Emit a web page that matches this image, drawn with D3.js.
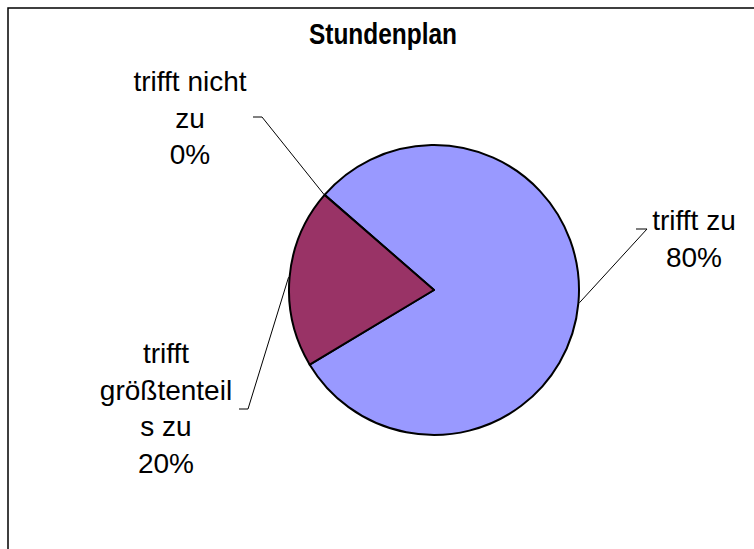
<!DOCTYPE html>
<html>
<head>
<meta charset="utf-8">
<script src="https://cdn.jsdelivr.net/npm/d3@7"></script>
<style>
  body { margin: 0; background: #fff; }
  text { font-family: "Liberation Sans", Arial, sans-serif; }
</style>
</head>
<body>
<svg id="chart"></svg>
<script>
let categories = ["trifft zu", "trifft größtenteils zu", "trifft nicht zu"];
let values = [80, 20, 0];
let sliceColors = ["#9999FF", "#993366", "#FFFFCC"];
// label text broken the way the reference wraps it
let labelLines = [
    ["trifft zu", "80%"],
    ["trifft", "größtenteil", "s zu", "20%"],
    ["trifft nicht", "zu", "0%"]
];

function getConfig(){
    let width = 754;
    let height = 549;
    let cx = 434;
    let cy = 290;
    let radius = 145;
    let container = d3.select("#chart")
        .attr("width", width)
        .attr("height", height);
    return { width, height, cx, cy, radius, container };
}

function getScales(){
    let cscale = d3.scaleOrdinal()
        .domain(categories)
        .range(sliceColors);
    return { cscale };
}

function drawFrame(config){
    let { container } = config;
    container.append("rect")
        .attr("x", 0).attr("y", 0)
        .attr("width", config.width).attr("height", config.height)
        .attr("fill", "#fff");
    // chart area border, runs off the right and bottom of the picture
    container.append("rect")
        .attr("x", 8).attr("y", 8)
        .attr("width", 900).attr("height", 700)
        .attr("fill", "none")
        .attr("stroke", "#000")
        .attr("stroke-width", 1.5);
    container.append("text")
        .attr("x", 383)
        .attr("y", 44)
        .attr("text-anchor", "middle")
        .attr("font-weight", "bold")
        .attr("font-size", "29px")
        .attr("textLength", 148)
        .attr("lengthAdjust", "spacingAndGlyphs")
        .text("Stundenplan");
}

function drawPie(config, scales){
    let { container, cx, cy, radius } = config;
    let { cscale } = scales;
    let start = -49 * Math.PI / 180;
    let pie = d3.pie()
        .sort(null)
        .value(d => d.value)
        .startAngle(start)
        .endAngle(start + 2 * Math.PI);
    let data = categories.map((c, i) => ({ name: c, value: values[i], lines: labelLines[i] }));
    let arcs = pie(data);
    let arc = d3.arc().innerRadius(0).outerRadius(radius);
    let g = container.append("g").attr("transform", "translate(" + cx + "," + cy + ")");
    g.selectAll("path")
        .data(arcs.filter(d => d.value > 0))
        .enter().append("path")
        .attr("d", arc)
        .attr("fill", d => cscale(d.data.name))
        .attr("stroke", "#000")
        .attr("stroke-width", 2)
        .attr("stroke-linejoin", "round");
    return arcs;
}

function drawLabels(config, arcs){
    let { container, cx, cy, radius } = config;
    // where each label block sits (centre x, first baseline) and the leader elbow
    let layout = [
        { x: 694, y: 230, ex: 647, ey: 229, hx: 636 },
        { x: 166, y: 363, ex: 248, ey: 409, hx: 239 },
        { x: 190, y: 91, ex: 262, ey: 117, hx: 253 }
    ];
    let lineH = 36.5;
    arcs.forEach((d, i) => {
        let a = (d.startAngle + d.endAngle) / 2;
        let px = cx + Math.sin(a) * (radius + 1);
        let py = cy - Math.cos(a) * (radius + 1);
        let L = layout[i];
        container.append("polyline")
            .attr("points", [[px, py], [L.ex, L.ey], [L.hx, L.ey]].map(p => p.join(",")).join(" "))
            .attr("fill", "none")
            .attr("stroke", "#000")
            .attr("stroke-width", 1);
        let t = container.append("text")
            .attr("text-anchor", "middle")
            .attr("font-size", "28px")
            .attr("fill", "#000");
        d.data.lines.forEach((line, j) => {
            t.append("tspan")
                .attr("x", L.x)
                .attr("y", L.y + j * lineH)
                .text(line);
        });
    });
}

let config = getConfig();
let scales = getScales();
drawFrame(config);
let arcs = drawPie(config, scales);
drawLabels(config, arcs);
</script>
</body>
</html>
